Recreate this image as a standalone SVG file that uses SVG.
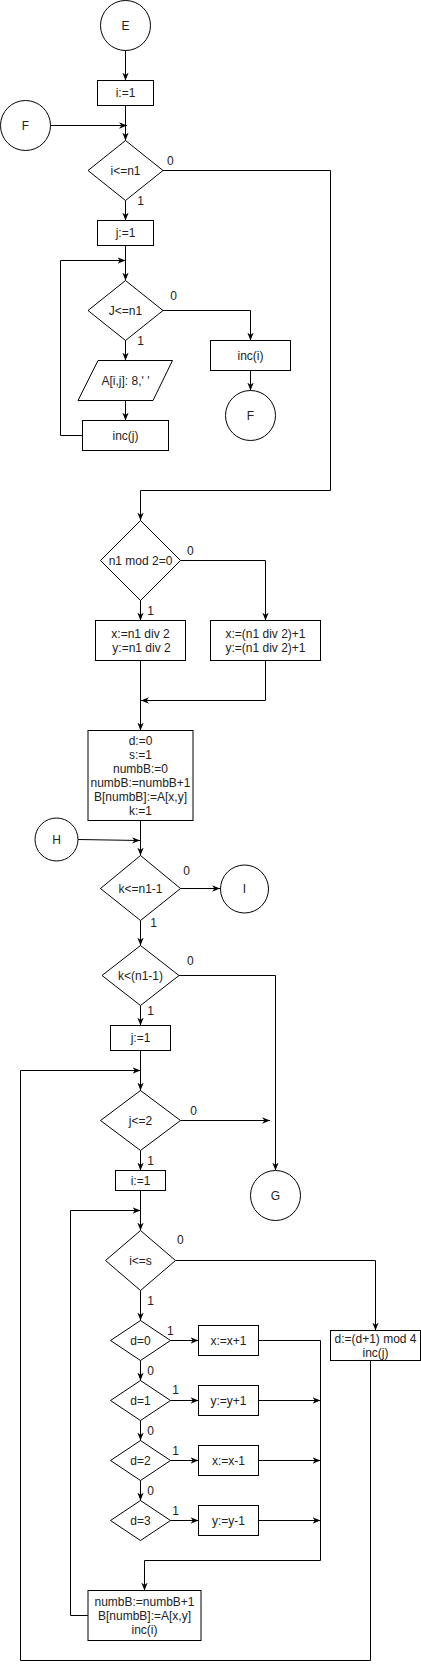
<svg xmlns="http://www.w3.org/2000/svg" width="421" height="1672" viewBox="0 0 421 1672">
<style>
.s{fill:#fff;stroke:#000;stroke-width:1}
.t{font-family:"Liberation Sans",Arial,sans-serif;font-size:12px;fill:#222;text-anchor:middle;dominant-baseline:central}
.c{fill:none;stroke:#000;stroke-width:1}
.a{marker-end:url(#ar)}
</style>
<defs>
<marker id="ar" viewBox="0 0 10 10" refX="10" refY="5" markerWidth="8" markerHeight="8" markerUnits="userSpaceOnUse" orient="auto">
<path d="M0,1 L10,5 L0,9 L3,5 Z" fill="#000"/>
</marker>
</defs>
<rect width="421" height="1672" fill="#fff"/>
<g id="connectors">
<path class="c a" d="M125.5,50.5 V80.5"/>
<path class="c a" d="M125.5,105.5 V140.5"/>
<path class="c a" d="M50.5,125.5 H127"/>
<path class="c a" d="M163,170.5 H330.5 V490.5 H140.5 V520.5"/>
<path class="c a" d="M125.5,200.5 V220.5"/>
<path class="c a" d="M125.5,245.5 V280.5"/>
<path class="c a" d="M163,310.5 H250.5 V340.5"/>
<path class="c a" d="M125.5,340.5 V360.5"/>
<path class="c a" d="M250.5,370.5 V390.5"/>
<path class="c a" d="M125.5,400.5 V420.5"/>
<path class="c a" d="M82.5,435.5 H60.5 V260.5 H125.5"/>
<path class="c a" d="M140.5,600.5 V620.5"/>
<path class="c a" d="M180.5,560.5 H265.5 V620.5"/>
<path class="c a" d="M140.5,660.5 V730.5"/>
<path class="c a" d="M265.5,660.5 V700.5 H141"/>
<path class="c a" d="M140.5,820.5 V855.5"/>
<path class="c a" d="M78,839.5 L140,840.5"/>
<path class="c a" d="M180.5,888.5 H220"/>
<path class="c a" d="M140.5,920.5 V945.5"/>
<path class="c a" d="M179,975.5 H275.5 V1170.5"/>
<path class="c a" d="M140.5,1005.5 V1025.5"/>
<path class="c a" d="M140.5,1050.5 V1090.5"/>
<path class="c a" d="M180.5,1120.5 H270"/>
<path class="c a" d="M140.5,1150.5 V1170.5"/>
<path class="c a" d="M140.5,1190.5 V1230.5"/>
<path class="c a" d="M175.5,1260.5 H375.5 V1330.5"/>
<path class="c a" d="M140.5,1290.5 V1320.5"/>
<path class="c a" d="M170.5,1340.5 H198.5"/>
<path class="c a" d="M140.5,1360.5 V1380.5"/>
<path class="c a" d="M170.5,1400.5 H198.5"/>
<path class="c a" d="M140.5,1420.5 V1440.5"/>
<path class="c a" d="M170.5,1460.5 H198.5"/>
<path class="c a" d="M140.5,1480.5 V1500.5"/>
<path class="c a" d="M170.5,1520.5 H198.5"/>
<path class="c a" d="M258.5,1340.5 H320.5 V1560.5 H144.5 V1590.5"/>
<path class="c a" d="M258.5,1400.5 H320.5"/>
<path class="c a" d="M258.5,1460.5 H320.5"/>
<path class="c a" d="M258.5,1520.5 H320.5"/>
<path class="c a" d="M370.5,1360.5 V1660.5 H20.5 V1070.5 H140.5"/>
<path class="c a" d="M88,1615.5 H70.5 V1210.5 H140.5"/>
</g>
<g id="labels">
<text class="t" x="170.3" y="160.7">0</text>
<text class="t" x="140.7" y="201">1</text>
<text class="t" x="173.7" y="295.7">0</text>
<text class="t" x="140.7" y="341">1</text>
<text class="t" x="190.3" y="550.7">0</text>
<text class="t" x="150.7" y="611">1</text>
<text class="t" x="186.7" y="870.7">0</text>
<text class="t" x="153.7" y="923.3">1</text>
<text class="t" x="190.3" y="960.7">0</text>
<text class="t" x="150.7" y="1010.7">1</text>
<text class="t" x="193.7" y="1110.7">0</text>
<text class="t" x="150.7" y="1160.7">1</text>
<text class="t" x="180.3" y="1240.3">0</text>
<text class="t" x="150.7" y="1301">1</text>
<text class="t" x="170.3" y="1331">1</text>
<text class="t" x="150.7" y="1370.7">0</text>
<text class="t" x="175.7" y="1390.3">1</text>
<text class="t" x="150.7" y="1430.7">0</text>
<text class="t" x="175.7" y="1450.7">1</text>
<text class="t" x="150.7" y="1490.7">0</text>
<text class="t" x="175.7" y="1510.7">1</text>
</g>
<g id="E"><circle class="s" cx="125.5" cy="25.5" r="25"/><text class="t" x="125.5" y="25.5">E</text></g>
<g id="i1"><rect class="s" x="97.5" y="80.5" width="56" height="25"/><text class="t" x="125.5" y="93">i:=1</text></g>
<g id="F1"><circle class="s" cx="25.5" cy="125.5" r="25"/><text class="t" x="25.5" y="125.5">F</text></g>
<g id="d_in1"><polygon class="s" points="125.5,140.5 163,170.5 125.5,200.5 88,170.5"/><text class="t" x="125.5" y="170.5">i&lt;=n1</text></g>
<g id="j1"><rect class="s" x="97.5" y="220.5" width="56" height="25"/><text class="t" x="125.5" y="233">j:=1</text></g>
<g id="d_jn1"><polygon class="s" points="125.5,280.5 163,310.5 125.5,340.5 88,310.5"/><text class="t" x="125.5" y="310.5">J&lt;=n1</text></g>
<g id="inci"><rect class="s" x="210.5" y="340.5" width="80" height="30"/><text class="t" x="250.5" y="355.5">inc(i)</text></g>
<g id="F2"><circle class="s" cx="250.5" cy="415.5" r="25"/><text class="t" x="250.5" y="415.5">F</text></g>
<g id="out"><polygon class="s" points="98,360.5 172.5,360.5 153,400.5 78,400.5"/><text class="t" x="125.5" y="380.5">A[i,j]: 8,' '</text></g>
<g id="incj"><rect class="s" x="82.5" y="420.5" width="86" height="30"/><text class="t" x="125.5" y="435.5">inc(j)</text></g>
<g id="d_mod"><polygon class="s" points="140.5,520.5 180.5,560.5 140.5,600.5 100.5,560.5"/><text class="t" x="140.5" y="560.5">n1 mod 2=0</text></g>
<g id="xy_even"><rect class="s" x="95.5" y="620.5" width="90" height="40"/><text class="t" x="140.5" y="633.5">x:=n1 div 2</text><text class="t" x="141.5" y="647.5">y:=n1 div 2</text></g>
<g id="xy_odd"><rect class="s" x="210.5" y="620.5" width="110" height="40"/><text class="t" x="265.5" y="633.5">x:=(n1 div 2)+1</text><text class="t" x="265.5" y="647.5">y:=(n1 div 2)+1</text></g>
<g id="init"><rect class="s" x="88" y="730.5" width="105" height="90"/>
<text class="t" x="140.5" y="741">d:=0</text>
<text class="t" x="140.5" y="755">s:=1</text>
<text class="t" x="140.5" y="769">numbB:=0</text>
<text class="t" x="140.5" y="783">numbB:=numbB+1</text>
<text class="t" x="140.5" y="797">B[numbB]:=A[x,y]</text>
<text class="t" x="140.5" y="811">k:=1</text></g>
<g id="H"><circle class="s" cx="56.5" cy="839.5" r="21.5"/><text class="t" x="56.5" y="839.5">H</text></g>
<g id="d_k1"><polygon class="s" points="140.5,855.5 180.5,888.5 140.5,920.5 100.5,888.5"/><text class="t" x="140.5" y="888.5">k&lt;=n1-1</text></g>
<g id="I"><circle class="s" cx="244.5" cy="889" r="24"/><text class="t" x="244.5" y="889">I</text></g>
<g id="d_k2"><polygon class="s" points="140.5,945.5 179,975.5 140.5,1005.5 102,975.5"/><text class="t" x="140.5" y="975.5">k&lt;(n1-1)</text></g>
<g id="j1b"><rect class="s" x="110.5" y="1025.5" width="60" height="25"/><text class="t" x="140.5" y="1038">j:=1</text></g>
<g id="d_j2"><polygon class="s" points="140.5,1090.5 180.5,1120.5 140.5,1150.5 100.5,1120.5"/><text class="t" x="140.5" y="1120.5">j&lt;=2</text></g>
<g id="G"><circle class="s" cx="275.5" cy="1195.5" r="25"/><text class="t" x="275.5" y="1195.5">G</text></g>
<g id="i1b"><rect class="s" x="115.5" y="1170.5" width="50" height="20"/><text class="t" x="140.5" y="1180.5">i:=1</text></g>
<g id="d_is"><polygon class="s" points="140.5,1230.5 175.5,1260.5 140.5,1290.5 105.5,1260.5"/><text class="t" x="140.5" y="1260.5">i&lt;=s</text></g>
<g id="dmod"><rect class="s" x="330.5" y="1330.5" width="90" height="30"/><text class="t" x="375.5" y="1338.7">d:=(d+1) mod 4</text><text class="t" x="375.5" y="1353">inc(j)</text></g>
<g id="d0"><polygon class="s" points="140.5,1320.5 170.5,1340.5 140.5,1360.5 110.5,1340.5"/><text class="t" x="140.5" y="1340.5">d=0</text></g>
<g id="xp"><rect class="s" x="198.5" y="1325.5" width="60" height="30"/><text class="t" x="228.5" y="1340.5">x:=x+1</text></g>
<g id="d1"><polygon class="s" points="140.5,1380.5 170.5,1400.5 140.5,1420.5 110.5,1400.5"/><text class="t" x="140.5" y="1400.5">d=1</text></g>
<g id="yp"><rect class="s" x="198.5" y="1385.5" width="60" height="30"/><text class="t" x="228.5" y="1400.5">y:=y+1</text></g>
<g id="d2"><polygon class="s" points="140.5,1440.5 170.5,1460.5 140.5,1480.5 110.5,1460.5"/><text class="t" x="140.5" y="1460.5">d=2</text></g>
<g id="xm"><rect class="s" x="198.5" y="1445.5" width="60" height="30"/><text class="t" x="228.5" y="1460.5">x:=x-1</text></g>
<g id="d3"><polygon class="s" points="140.5,1500.5 170.5,1520.5 140.5,1540.5 110.5,1520.5"/><text class="t" x="140.5" y="1520.5">d=3</text></g>
<g id="ym"><rect class="s" x="198.5" y="1505.5" width="60" height="30"/><text class="t" x="228.5" y="1520.5">y:=y-1</text></g>
<g id="push"><rect class="s" x="88" y="1590.5" width="113" height="50"/>
<text class="t" x="144.5" y="1601.7">numbB:=numbB+1</text>
<text class="t" x="144.5" y="1616">B[numbB]:=A[x,y]</text>
<text class="t" x="144.5" y="1630">inc(i)</text></g>
</svg>
